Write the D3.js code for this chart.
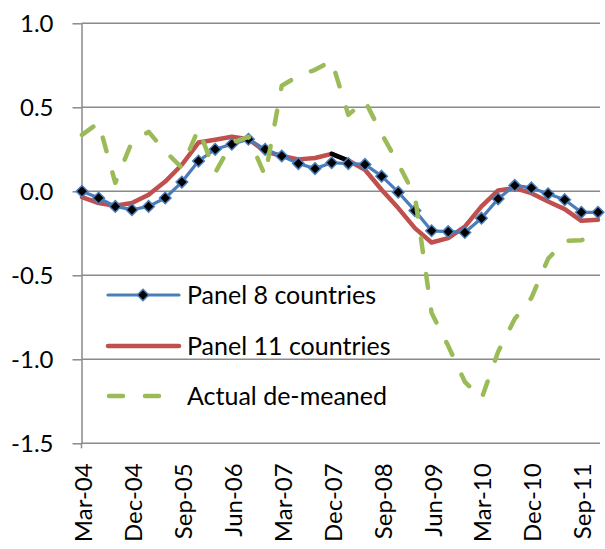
<!DOCTYPE html>
<html>
<head>
<meta charset="utf-8">
<script src="https://cdn.jsdelivr.net/npm/d3@7"></script>
<style>
  html, body { margin: 0; padding: 0; background: #fff; }
  svg { display: block; }
  text { font-family: Lato, Carlito, Calibri, "Open Sans", sans-serif; fill: #000; }
</style>
</head>
<body>
<svg id="chart" width="605" height="549"></svg>
<script>
// ---------- data ----------
const quarters = [
  "Mar-04","Jun-04","Sep-04","Dec-04",
  "Mar-05","Jun-05","Sep-05","Dec-05",
  "Mar-06","Jun-06","Sep-06","Dec-06",
  "Mar-07","Jun-07","Sep-07","Dec-07",
  "Mar-08","Jun-08","Sep-08","Dec-08",
  "Mar-09","Jun-09","Sep-09","Dec-09",
  "Mar-10","Jun-10","Sep-10","Dec-10",
  "Mar-11","Jun-11","Sep-11","Dec-11"
];
const panel8 = [
  0.00, -0.04, -0.09, -0.11, -0.09, -0.04, 0.055, 0.18,
  0.25, 0.28, 0.31, 0.25, 0.21, 0.165, 0.135, 0.17,
  0.165, 0.16, 0.09, -0.005, -0.115, -0.235, -0.24, -0.245,
  -0.16, -0.045, 0.035, 0.02, -0.015, -0.05, -0.125, -0.125
];
const panel11 = [
  -0.035, -0.07, -0.086, -0.07, -0.02, 0.058, 0.158, 0.29,
  0.307, 0.325, 0.31, 0.237, 0.211, 0.19, 0.198, 0.223,
  0.183, 0.128, 0.009, -0.10, -0.219, -0.305, -0.279, -0.21,
  -0.09, 0.005, 0.019, -0.011, -0.061, -0.106, -0.176, -0.17
];
const actual = [
  0.336, 0.408, 0.05, 0.295, 0.354, 0.238, 0.14, 0.372,
  0.11, 0.289, 0.324, 0.092, 0.628, 0.688, 0.723, 0.777,
  0.455, 0.539, 0.342, 0.164, -0.027, -0.723, -0.92, -1.134,
  -1.235, -0.955, -0.759, -0.634, -0.402, -0.295, -0.292, -0.235
];
const yTicks = [-1.5, -1.0, -0.5, 0.0, 0.5, 1.0];
const xTickLabels = quarters.filter((d, i) => i % 3 === 0);
const seriesNames = ["Panel 8 countries", "Panel 11 countries", "Actual de-meaned"];

// ---------- layout ----------
const svg = d3.select("#chart");
const X0 = 82, X1 = 598, YTOP = 23.3, YBOT = 443.3;
const x = d3.scalePoint().domain(quarters).range([X0, X1]);
const y = d3.scaleLinear().domain([-1.5, 1.0]).range([YBOT, YTOP]);

const gridColor = "#8a8a8a";
const blue = "#4A7EBB", red = "#C0504D", green = "#9BBB59";

// gridlines
svg.append("g").selectAll("line").data(yTicks.filter(d => d > -1.5)).join("line")
  .attr("x1", X0 - 0.5).attr("x2", 600)
  .attr("y1", d => y(d)).attr("y2", d => y(d))
  .attr("stroke", gridColor).attr("stroke-width", 1.5);

// y axis
const yAxis = d3.axisLeft(y).tickValues(yTicks).tickSize(9).tickSizeOuter(0)
  .tickPadding(19).tickFormat(d => d.toFixed(1));
const gy = svg.append("g").attr("transform", `translate(${X0 - 0.5},0)`).call(yAxis);
gy.select(".domain").attr("stroke", gridColor).attr("stroke-width", 1.5);
gy.selectAll(".tick line").attr("stroke", gridColor).attr("stroke-width", 1.5);
gy.selectAll(".tick text").attr("font-size", 24).attr("dy", "0.36em")
  .style("font-family", "Lato, Carlito, Calibri, sans-serif").attr("fill", "#000");

// x axis
svg.append("line").attr("x1", X0 - 0.5).attr("x2", 600)
  .attr("y1", YBOT).attr("y2", YBOT).attr("stroke", gridColor).attr("stroke-width", 1.5);
svg.append("line").attr("x1", X0 - 0.5).attr("x2", X0 - 0.5)
  .attr("y1", YBOT).attr("y2", YBOT + 5).attr("stroke", gridColor).attr("stroke-width", 1.5);

svg.append("g").selectAll("text").data(xTickLabels).join("text")
  .attr("transform", d => `translate(${x(d) + 10},${YBOT + 20}) rotate(-90)`)
  .attr("text-anchor", "end")
  .attr("font-size", 24)
  .text(d => d);

// ---------- series ----------
const line = d3.line().x((d, i) => x(quarters[i])).y(d => y(d));
const lineSeg = (arr, a, b) => d3.line().x(d => x(quarters[d])).y(d => y(arr[d]))(d3.range(a, b + 1));

// Panel 11 (red)
svg.append("path").attr("d", line(panel11)).attr("fill", "none")
  .attr("stroke", red).attr("stroke-width", 4.5).attr("stroke-linejoin", "round").attr("stroke-linecap", "round");
svg.append("path").attr("d", lineSeg(panel11, 15, 16)).attr("fill", "none")
  .attr("stroke", "#000").attr("stroke-width", 4.5).attr("stroke-linecap", "round");

// Panel 8 (blue with diamonds)
svg.append("path").attr("d", line(panel8)).attr("fill", "none")
  .attr("stroke", blue).attr("stroke-width", 3.2).attr("stroke-linejoin", "round");
const diamond = d3.symbol().type(d3.symbolDiamond2).size(85);
svg.append("g").selectAll("path").data(panel8).join("path")
  .attr("d", diamond)
  .attr("transform", (d, i) => `translate(${x(quarters[i])},${y(d)})`)
  .attr("fill", "#000").attr("stroke", blue).attr("stroke-width", 1.5);

// Actual (green dashed)
svg.append("path").attr("d", line(actual)).attr("fill", "none")
  .attr("stroke", green).attr("stroke-width", 4.5).attr("stroke-dasharray", "14 22")
  .attr("stroke-linecap", "round").attr("stroke-linejoin", "round");

// ---------- legend ----------
const lg = svg.append("g");
const legY = [295, 346, 396];
lg.append("line").attr("x1", 108).attr("x2", 179).attr("y1", legY[0]).attr("y2", legY[0])
  .attr("stroke", blue).attr("stroke-width", 3.2).attr("stroke-linecap", "round");
lg.append("path").attr("d", diamond).attr("transform", `translate(143,${legY[0]})`)
  .attr("fill", "#000").attr("stroke", blue).attr("stroke-width", 1.5);
lg.append("line").attr("x1", 108).attr("x2", 179).attr("y1", legY[1]).attr("y2", legY[1])
  .attr("stroke", red).attr("stroke-width", 4.5).attr("stroke-linecap", "round");
lg.append("line").attr("x1", 109).attr("x2", 179).attr("y1", legY[2]).attr("y2", legY[2])
  .attr("stroke", green).attr("stroke-width", 4.5).attr("stroke-dasharray", "14 22")
  .attr("stroke-linecap", "round");
lg.selectAll("text").data(seriesNames).join("text")
  .attr("x", 187).attr("y", (d, i) => legY[i] + 9)
  .attr("font-size", 25)
  .text(d => d);
</script>
</body>
</html>
